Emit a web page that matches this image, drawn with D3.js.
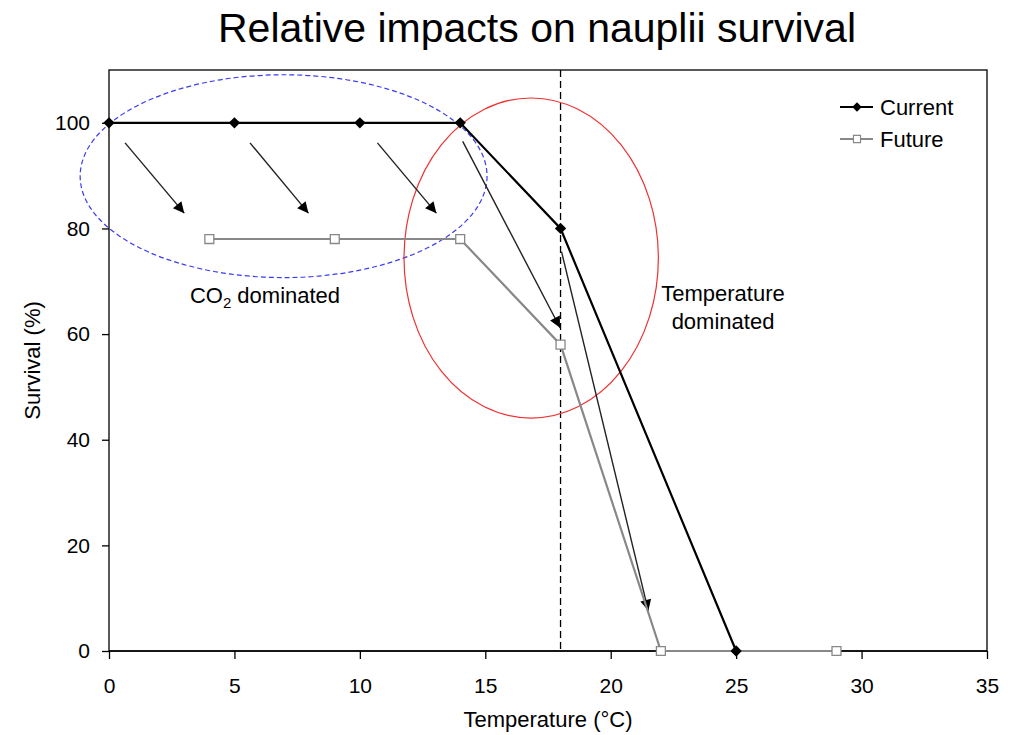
<!DOCTYPE html>
<html><head><meta charset="utf-8">
<script src="https://cdn.jsdelivr.net/npm/d3@7"></script>
<style>body{margin:0;background:#fff;font-family:"Liberation Sans",Arial,sans-serif;}</style>
</head><body>
<svg id="c" width="1012" height="735" font-family="Liberation Sans, Arial, sans-serif"></svg>
<script>
const xTicks = [0,5,10,15,20,25,30,35];
const yTicks = [0,20,40,60,80,100];
const currentX = [0,5,10,14,18,25];
const currentY = [100,100,100,100,80,0];
const futureX = [4,9,14,18,22,29];
const futureY = [78,78,78,58,0,0];
const thresholdX = 18;
// arrows: [x1,y1,x2,y2] in data units
const arrows = [
  [0.64,96.2,3.0,82.9],
  [5.62,96.2,7.95,82.9],
  [10.7,96.2,13.05,82.9],
  [14.1,96.5,17.98,61.2],
  [18.04,75.6,21.5,7.6]
];
// ellipses: [cx, cy, rx, ry] in data units
const co2Ellipse = [6.96,89.9,8.11,19.2];
const tempEllipse = [16.83,74.4,5.07,30.3];

const svg = d3.select("#c");
const L=109, R=987, T=70, B=651;
const x = d3.scaleLinear().domain([0,35]).range([L,R]);
const y = d3.scaleLinear().domain([0,110]).range([B,T]);

svg.append("text").attr("x",537).attr("y",42).attr("text-anchor","middle")
  .attr("font-size",41).attr("fill","#000").text("Relative impacts on nauplii survival");

// frame
svg.append("rect").attr("x",L).attr("y",T).attr("width",R-L).attr("height",B-T)
  .attr("fill","none").attr("stroke","#000").attr("stroke-width",1.3);

const xAxis = svg.append("g").attr("transform",`translate(0,${B})`)
  .call(d3.axisBottom(x).tickValues(xTicks).tickSize(8).tickPadding(19).tickSizeOuter(0));
const yAxis = svg.append("g").attr("transform",`translate(${L},0)`)
  .call(d3.axisLeft(y).tickValues(yTicks).tickSize(7).tickPadding(12).tickSizeOuter(0));
[xAxis,yAxis].forEach(a=>{
  a.attr("font-size",21).attr("font-family","Liberation Sans, Arial, sans-serif");
  a.select(".domain").remove();
  a.selectAll("line").attr("stroke","#000").attr("stroke-width",1.3);
  a.selectAll("text").attr("fill","#000");
});
svg.append("line").attr("x1",L).attr("x2",R).attr("y1",B).attr("y2",B).attr("stroke","#000").attr("stroke-width",1.5);

svg.append("text").attr("x",548).attr("y",727).attr("text-anchor","middle").attr("font-size",22).text("Temperature (°C)");
svg.append("text").attr("transform",`translate(40,${(T+B)/2}) rotate(-90)`).attr("text-anchor","middle").attr("font-size",22).text("Survival (%)");

// threshold line
svg.append("line").attr("x1",x(thresholdX)).attr("x2",x(thresholdX)).attr("y1",T).attr("y2",B)
  .attr("stroke","#000").attr("stroke-width",1.3).attr("stroke-dasharray","7,4");

// ellipses
svg.append("ellipse").attr("cx",x(co2Ellipse[0])).attr("cy",y(co2Ellipse[1]))
  .attr("rx",x(co2Ellipse[2])-x(0)).attr("ry",y(0)-y(co2Ellipse[3]))
  .attr("fill","none").attr("stroke","#3b3bf0").attr("stroke-width",1.2).attr("stroke-dasharray","5,3");
svg.append("ellipse").attr("cx",x(tempEllipse[0])).attr("cy",y(tempEllipse[1]))
  .attr("rx",x(tempEllipse[2])-x(0)).attr("ry",y(0)-y(tempEllipse[3]))
  .attr("fill","none").attr("stroke","#f03030").attr("stroke-width",1.2);

// arrows
svg.append("defs").append("marker").attr("id","ah").attr("viewBox","0 0 10 10")
  .attr("refX",10).attr("refY",5).attr("markerWidth",14).attr("markerHeight",11).attr("markerUnits","userSpaceOnUse")
  .attr("orient","auto").append("path").attr("d","M0,0L10,5L0,10Z").attr("fill","#000");
svg.selectAll(".arr").data(arrows).enter().append("line")
  .attr("x1",d=>x(d[0])).attr("y1",d=>y(d[1])).attr("x2",d=>x(d[2])).attr("y2",d=>y(d[3]))
  .attr("stroke","#222").attr("stroke-width",1.4).attr("marker-end","url(#ah)");

const line = d3.line().x(d=>x(d[0])).y(d=>y(d[1]));
const fut = futureX.map((v,i)=>[v,futureY[i]]);
const cur = currentX.map((v,i)=>[v,currentY[i]]);
svg.append("path").attr("d",line(fut)).attr("fill","none").attr("stroke","#888").attr("stroke-width",2.2);
svg.append("path").attr("d",line(cur)).attr("fill","none").attr("stroke","#000").attr("stroke-width",2.2);

const sq = d3.symbol().type(d3.symbolSquare).size(80);
const dm = d3.symbol().type(d3.symbolSquare).size(64);
svg.selectAll(".fm").data(fut).enter().append("path").attr("d",sq)
  .attr("transform",d=>`translate(${x(d[0])},${y(d[1])})`).attr("fill","#fff").attr("stroke","#888").attr("stroke-width",1.3);
svg.selectAll(".cm").data(cur).enter().append("path").attr("d",dm)
  .attr("transform",d=>`translate(${x(d[0])},${y(d[1])}) rotate(45)`).attr("fill","#000");

// annotations
const co2 = svg.append("text").attr("x",265).attr("y",303).attr("text-anchor","middle").attr("font-size",22);
co2.append("tspan").text("CO");
co2.append("tspan").attr("font-size",15).attr("dy",5).text("2");
co2.append("tspan").attr("dy",-5).text(" dominated");
svg.append("text").attr("x",723).attr("y",301).attr("text-anchor","middle").attr("font-size",22).text("Temperature");
svg.append("text").attr("x",723).attr("y",329).attr("text-anchor","middle").attr("font-size",22).text("dominated");

// legend
const lg = [["Current","#000"],["Future","#888"]];
lg.forEach((d,i)=>{
  const yy = 107 + i*32;
  svg.append("line").attr("x1",840).attr("x2",873).attr("y1",yy).attr("y2",yy).attr("stroke",d[1]).attr("stroke-width",2);
  if(i===0){
    svg.append("path").attr("d",d3.symbol().type(d3.symbolSquare).size(45)())
      .attr("transform",`translate(857,${yy}) rotate(45)`).attr("fill","#000");
  } else {
    svg.append("path").attr("d",d3.symbol().type(d3.symbolSquare).size(50)())
      .attr("transform",`translate(857,${yy})`).attr("fill","#fff").attr("stroke","#888").attr("stroke-width",1.2);
  }
  svg.append("text").attr("x",880).attr("y",yy+8).attr("font-size",22).text(d[0]);
});
</script>
</body></html>
